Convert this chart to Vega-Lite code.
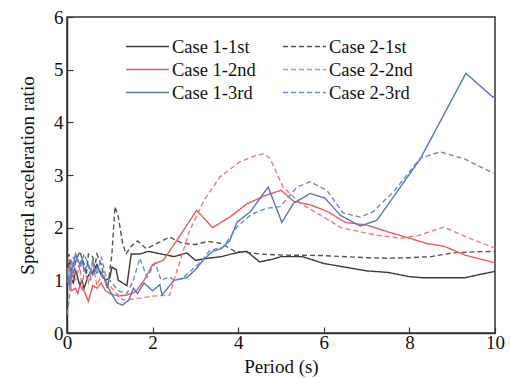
{
  "$schema": "https://vega.github.io/schema/vega-lite/v6.json",
  "width": 428,
  "height": 316,
  "autosize": "none",
  "padding": {"left": 67, "top": 17, "right": 15, "bottom": 45},
  "background": "white",
  "config": {
    "font": "Liberation Serif",
    "view": {"stroke": "#333", "strokeWidth": 1.5}
  },
  "datasets": {
    "d": [
      {"s":"Case 1-1st","t":0,"v":1.1},{"s":"Case 1-1st","t":0.05,"v":1.35},{"s":"Case 1-1st","t":0.1,"v":1.0},{"s":"Case 1-1st","t":0.15,"v":0.95},{"s":"Case 1-1st","t":0.2,"v":1.2},{"s":"Case 1-1st","t":0.3,"v":0.9},{"s":"Case 1-1st","t":0.35,"v":1.0},{"s":"Case 1-1st","t":0.4,"v":0.85},{"s":"Case 1-1st","t":0.5,"v":1.1},{"s":"Case 1-1st","t":0.6,"v":1.15},{"s":"Case 1-1st","t":0.7,"v":1.3},{"s":"Case 1-1st","t":0.8,"v":1.1},{"s":"Case 1-1st","t":0.9,"v":1.0},{"s":"Case 1-1st","t":1.0,"v":1.05},{"s":"Case 1-1st","t":1.05,"v":1.25},{"s":"Case 1-1st","t":1.15,"v":1.2},{"s":"Case 1-1st","t":1.2,"v":1.0},{"s":"Case 1-1st","t":1.3,"v":0.95},{"s":"Case 1-1st","t":1.4,"v":0.9},{"s":"Case 1-1st","t":1.5,"v":1.5},{"s":"Case 1-1st","t":1.7,"v":1.5},{"s":"Case 1-1st","t":1.9,"v":1.55},{"s":"Case 1-1st","t":2.2,"v":1.5},{"s":"Case 1-1st","t":2.5,"v":1.45},{"s":"Case 1-1st","t":2.8,"v":1.52},{"s":"Case 1-1st","t":3.0,"v":1.38},{"s":"Case 1-1st","t":3.3,"v":1.42},{"s":"Case 1-1st","t":3.6,"v":1.45},{"s":"Case 1-1st","t":4.0,"v":1.53},{"s":"Case 1-1st","t":4.2,"v":1.55},{"s":"Case 1-1st","t":4.5,"v":1.35},{"s":"Case 1-1st","t":4.8,"v":1.4},{"s":"Case 1-1st","t":5.0,"v":1.45},{"s":"Case 1-1st","t":5.5,"v":1.45},{"s":"Case 1-1st","t":6.0,"v":1.32},{"s":"Case 1-1st","t":6.5,"v":1.25},{"s":"Case 1-1st","t":7.0,"v":1.18},{"s":"Case 1-1st","t":7.5,"v":1.15},{"s":"Case 1-1st","t":8.0,"v":1.07},{"s":"Case 1-1st","t":8.3,"v":1.05},{"s":"Case 1-1st","t":9.0,"v":1.05},{"s":"Case 1-1st","t":9.3,"v":1.05},{"s":"Case 1-1st","t":9.7,"v":1.12},{"s":"Case 1-1st","t":10,"v":1.17},

      {"s":"Case 2-1st","t":0,"v":1.3},{"s":"Case 2-1st","t":0.05,"v":1.5},{"s":"Case 2-1st","t":0.1,"v":1.2},{"s":"Case 2-1st","t":0.15,"v":1.05},{"s":"Case 2-1st","t":0.2,"v":1.35},{"s":"Case 2-1st","t":0.3,"v":1.55},{"s":"Case 2-1st","t":0.4,"v":1.3},{"s":"Case 2-1st","t":0.45,"v":1.1},{"s":"Case 2-1st","t":0.5,"v":1.5},{"s":"Case 2-1st","t":0.6,"v":1.45},{"s":"Case 2-1st","t":0.65,"v":1.25},{"s":"Case 2-1st","t":0.7,"v":1.5},{"s":"Case 2-1st","t":0.8,"v":1.3},{"s":"Case 2-1st","t":0.9,"v":0.95},{"s":"Case 2-1st","t":0.95,"v":0.85},{"s":"Case 2-1st","t":1.05,"v":1.5},{"s":"Case 2-1st","t":1.12,"v":2.4},{"s":"Case 2-1st","t":1.2,"v":2.2},{"s":"Case 2-1st","t":1.3,"v":1.7},{"s":"Case 2-1st","t":1.38,"v":1.5},{"s":"Case 2-1st","t":1.5,"v":1.65},{"s":"Case 2-1st","t":1.65,"v":1.75},{"s":"Case 2-1st","t":1.85,"v":1.6},{"s":"Case 2-1st","t":2.1,"v":1.7},{"s":"Case 2-1st","t":2.4,"v":1.82},{"s":"Case 2-1st","t":2.7,"v":1.7},{"s":"Case 2-1st","t":3.0,"v":1.68},{"s":"Case 2-1st","t":3.3,"v":1.74},{"s":"Case 2-1st","t":3.6,"v":1.7},{"s":"Case 2-1st","t":3.9,"v":1.56},{"s":"Case 2-1st","t":4.5,"v":1.5},{"s":"Case 2-1st","t":5.0,"v":1.48},{"s":"Case 2-1st","t":6.0,"v":1.47},{"s":"Case 2-1st","t":7.0,"v":1.43},{"s":"Case 2-1st","t":7.5,"v":1.42},{"s":"Case 2-1st","t":8.0,"v":1.43},{"s":"Case 2-1st","t":8.5,"v":1.45},{"s":"Case 2-1st","t":9.0,"v":1.52},{"s":"Case 2-1st","t":9.5,"v":1.54},{"s":"Case 2-1st","t":10,"v":1.55},

      {"s":"Case 1-2nd","t":0,"v":0.95},{"s":"Case 1-2nd","t":0.05,"v":1.1},{"s":"Case 1-2nd","t":0.1,"v":0.8},{"s":"Case 1-2nd","t":0.2,"v":0.85},{"s":"Case 1-2nd","t":0.25,"v":0.75},{"s":"Case 1-2nd","t":0.3,"v":0.9},{"s":"Case 1-2nd","t":0.4,"v":0.8},{"s":"Case 1-2nd","t":0.5,"v":0.6},{"s":"Case 1-2nd","t":0.6,"v":0.9},{"s":"Case 1-2nd","t":0.7,"v":0.85},{"s":"Case 1-2nd","t":0.8,"v":0.95},{"s":"Case 1-2nd","t":0.9,"v":0.8},{"s":"Case 1-2nd","t":1.0,"v":0.75},{"s":"Case 1-2nd","t":1.2,"v":0.7},{"s":"Case 1-2nd","t":1.4,"v":0.72},{"s":"Case 1-2nd","t":1.6,"v":0.78},{"s":"Case 1-2nd","t":1.8,"v":1.0},{"s":"Case 1-2nd","t":2.0,"v":1.3},{"s":"Case 1-2nd","t":2.25,"v":1.38},{"s":"Case 1-2nd","t":2.6,"v":1.8},{"s":"Case 1-2nd","t":3.03,"v":2.33},{"s":"Case 1-2nd","t":3.4,"v":2.0},{"s":"Case 1-2nd","t":3.8,"v":2.2},{"s":"Case 1-2nd","t":4.2,"v":2.45},{"s":"Case 1-2nd","t":4.6,"v":2.6},{"s":"Case 1-2nd","t":5.0,"v":2.71},{"s":"Case 1-2nd","t":5.3,"v":2.5},{"s":"Case 1-2nd","t":5.7,"v":2.43},{"s":"Case 1-2nd","t":6.1,"v":2.3},{"s":"Case 1-2nd","t":6.5,"v":2.1},{"s":"Case 1-2nd","t":7.0,"v":2.05},{"s":"Case 1-2nd","t":7.5,"v":1.92},{"s":"Case 1-2nd","t":8.0,"v":1.8},{"s":"Case 1-2nd","t":8.4,"v":1.7},{"s":"Case 1-2nd","t":8.8,"v":1.65},{"s":"Case 1-2nd","t":9.3,"v":1.48},{"s":"Case 1-2nd","t":10,"v":1.33},

      {"s":"Case 2-2nd","t":0,"v":1.15},{"s":"Case 2-2nd","t":0.05,"v":1.3},{"s":"Case 2-2nd","t":0.1,"v":0.9},{"s":"Case 2-2nd","t":0.15,"v":1.45},{"s":"Case 2-2nd","t":0.2,"v":1.0},{"s":"Case 2-2nd","t":0.3,"v":1.3},{"s":"Case 2-2nd","t":0.35,"v":0.8},{"s":"Case 2-2nd","t":0.4,"v":1.2},{"s":"Case 2-2nd","t":0.5,"v":0.95},{"s":"Case 2-2nd","t":0.6,"v":1.35},{"s":"Case 2-2nd","t":0.7,"v":0.9},{"s":"Case 2-2nd","t":0.8,"v":1.1},{"s":"Case 2-2nd","t":0.9,"v":0.95},{"s":"Case 2-2nd","t":1.0,"v":0.9},{"s":"Case 2-2nd","t":1.1,"v":0.8},{"s":"Case 2-2nd","t":1.3,"v":0.63},{"s":"Case 2-2nd","t":1.6,"v":0.65},{"s":"Case 2-2nd","t":2.0,"v":0.7},{"s":"Case 2-2nd","t":2.4,"v":0.72},{"s":"Case 2-2nd","t":2.52,"v":1.06},{"s":"Case 2-2nd","t":2.87,"v":1.95},{"s":"Case 2-2nd","t":3.2,"v":2.52},{"s":"Case 2-2nd","t":3.57,"v":2.96},{"s":"Case 2-2nd","t":4.04,"v":3.25},{"s":"Case 2-2nd","t":4.44,"v":3.38},{"s":"Case 2-2nd","t":4.6,"v":3.4},{"s":"Case 2-2nd","t":4.74,"v":3.32},{"s":"Case 2-2nd","t":5.05,"v":2.77},{"s":"Case 2-2nd","t":5.44,"v":2.47},{"s":"Case 2-2nd","t":6.0,"v":2.2},{"s":"Case 2-2nd","t":6.4,"v":2.0},{"s":"Case 2-2nd","t":7.2,"v":1.86},{"s":"Case 2-2nd","t":7.8,"v":1.8},{"s":"Case 2-2nd","t":8.2,"v":1.85},{"s":"Case 2-2nd","t":8.8,"v":2.01},{"s":"Case 2-2nd","t":9.4,"v":1.8},{"s":"Case 2-2nd","t":10,"v":1.61},

      {"s":"Case 1-3rd","t":0,"v":1.2},{"s":"Case 1-3rd","t":0.05,"v":0.9},{"s":"Case 1-3rd","t":0.1,"v":1.1},{"s":"Case 1-3rd","t":0.2,"v":1.5},{"s":"Case 1-3rd","t":0.3,"v":1.3},{"s":"Case 1-3rd","t":0.35,"v":1.4},{"s":"Case 1-3rd","t":0.4,"v":1.2},{"s":"Case 1-3rd","t":0.5,"v":1.3},{"s":"Case 1-3rd","t":0.6,"v":1.1},{"s":"Case 1-3rd","t":0.7,"v":1.25},{"s":"Case 1-3rd","t":0.8,"v":1.15},{"s":"Case 1-3rd","t":0.9,"v":1.0},{"s":"Case 1-3rd","t":1.0,"v":0.8},{"s":"Case 1-3rd","t":1.17,"v":0.57},{"s":"Case 1-3rd","t":1.3,"v":0.53},{"s":"Case 1-3rd","t":1.45,"v":0.63},{"s":"Case 1-3rd","t":1.55,"v":0.85},{"s":"Case 1-3rd","t":1.65,"v":0.75},{"s":"Case 1-3rd","t":1.8,"v":0.95},{"s":"Case 1-3rd","t":2.0,"v":0.8},{"s":"Case 1-3rd","t":2.17,"v":0.92},{"s":"Case 1-3rd","t":2.22,"v":0.72},{"s":"Case 1-3rd","t":2.5,"v":1.0},{"s":"Case 1-3rd","t":2.8,"v":1.05},{"s":"Case 1-3rd","t":3.0,"v":1.2},{"s":"Case 1-3rd","t":3.2,"v":1.4},{"s":"Case 1-3rd","t":3.4,"v":1.55},{"s":"Case 1-3rd","t":3.6,"v":1.6},{"s":"Case 1-3rd","t":3.8,"v":1.75},{"s":"Case 1-3rd","t":3.97,"v":2.1},{"s":"Case 1-3rd","t":4.28,"v":2.3},{"s":"Case 1-3rd","t":4.7,"v":2.77},{"s":"Case 1-3rd","t":5.02,"v":2.1},{"s":"Case 1-3rd","t":5.29,"v":2.46},{"s":"Case 1-3rd","t":5.68,"v":2.65},{"s":"Case 1-3rd","t":6.03,"v":2.56},{"s":"Case 1-3rd","t":6.38,"v":2.24},{"s":"Case 1-3rd","t":6.85,"v":2.03},{"s":"Case 1-3rd","t":7.24,"v":2.14},{"s":"Case 1-3rd","t":8.25,"v":3.3},{"s":"Case 1-3rd","t":9.32,"v":4.93},{"s":"Case 1-3rd","t":9.95,"v":4.48},{"s":"Case 1-3rd","t":10,"v":4.5},

      {"s":"Case 2-3rd","t":0,"v":0.35},{"s":"Case 2-3rd","t":0.05,"v":0.6},{"s":"Case 2-3rd","t":0.1,"v":1.4},{"s":"Case 2-3rd","t":0.15,"v":1.1},{"s":"Case 2-3rd","t":0.2,"v":1.5},{"s":"Case 2-3rd","t":0.3,"v":1.2},{"s":"Case 2-3rd","t":0.4,"v":1.5},{"s":"Case 2-3rd","t":0.5,"v":1.3},{"s":"Case 2-3rd","t":0.55,"v":1.0},{"s":"Case 2-3rd","t":0.6,"v":1.4},{"s":"Case 2-3rd","t":0.7,"v":1.1},{"s":"Case 2-3rd","t":0.8,"v":1.45},{"s":"Case 2-3rd","t":0.9,"v":1.1},{"s":"Case 2-3rd","t":1.0,"v":1.0},{"s":"Case 2-3rd","t":1.2,"v":0.8},{"s":"Case 2-3rd","t":1.4,"v":0.75},{"s":"Case 2-3rd","t":1.55,"v":1.0},{"s":"Case 2-3rd","t":1.7,"v":1.42},{"s":"Case 2-3rd","t":1.87,"v":1.06},{"s":"Case 2-3rd","t":2.06,"v":1.33},{"s":"Case 2-3rd","t":2.2,"v":1.0},{"s":"Case 2-3rd","t":2.4,"v":1.07},{"s":"Case 2-3rd","t":2.5,"v":1.0},{"s":"Case 2-3rd","t":2.7,"v":1.04},{"s":"Case 2-3rd","t":3.1,"v":1.33},{"s":"Case 2-3rd","t":3.34,"v":1.57},{"s":"Case 2-3rd","t":3.65,"v":1.63},{"s":"Case 2-3rd","t":3.97,"v":2.01},{"s":"Case 2-3rd","t":4.3,"v":2.25},{"s":"Case 2-3rd","t":4.67,"v":2.37},{"s":"Case 2-3rd","t":4.98,"v":2.4},{"s":"Case 2-3rd","t":5.37,"v":2.77},{"s":"Case 2-3rd","t":5.68,"v":2.87},{"s":"Case 2-3rd","t":6.07,"v":2.71},{"s":"Case 2-3rd","t":6.45,"v":2.28},{"s":"Case 2-3rd","t":6.85,"v":2.2},{"s":"Case 2-3rd","t":7.15,"v":2.3},{"s":"Case 2-3rd","t":7.66,"v":2.71},{"s":"Case 2-3rd","t":8.25,"v":3.32},{"s":"Case 2-3rd","t":8.72,"v":3.44},{"s":"Case 2-3rd","t":9.3,"v":3.3},{"s":"Case 2-3rd","t":9.95,"v":3.04},{"s":"Case 2-3rd","t":10,"v":3.03}
    ]
  },
  "data": {"name": "d"},
  "mark": {"type": "line", "strokeWidth": 1.4, "clip": true},
  "encoding": {
    "x": {"field": "t", "type": "quantitative", "title": "Period (s)",
      "scale": {"domain": [0, 10], "nice": false},
      "axis": {"values": [0, 2, 4, 6, 8, 10], "grid": false,
        "labelFont": "Liberation Serif", "labelFontSize": 19, "labelColor": "#111", "labelFontWeight": "normal",
        "titleFont": "Liberation Serif", "titleFontSize": 19, "titleColor": "#111", "titleFontWeight": "normal",
        "domainColor": "#333", "domainWidth": 1.5, "tickColor": "#333", "tickWidth": 1.2, "tickSize": -6,
        "labelPadding": 6, "titlePadding": 5, "labelFlush": false}},
    "y": {"field": "v", "type": "quantitative", "title": "Spectral acceleration ratio",
      "scale": {"domain": [0, 6], "nice": false},
      "axis": {"values": [0, 1, 2, 3, 4, 5, 6], "grid": false,
        "labelFont": "Liberation Serif", "labelFontSize": 19, "labelColor": "#111", "labelFontWeight": "normal",
        "titleFont": "Liberation Serif", "titleFontSize": 19, "titleColor": "#111", "titleFontWeight": "normal",
        "domainColor": "#333", "domainWidth": 1.5, "tickColor": "#333", "tickWidth": 1.2, "tickSize": -6,
        "labelPadding": 10, "titlePadding": 16, "labelFlush": false}},
    "color": {"field": "s", "type": "nominal",
      "scale": {"domain": ["Case 1-1st", "Case 1-2nd", "Case 1-3rd", "Case 2-1st", "Case 2-2nd", "Case 2-3rd"],
        "range": ["#3a3a3a", "#ef5858", "#5577bb", "#555555", "#f07a7a", "#6a8acb"]},
      "legend": {"orient": "none", "legendX": 58, "legendY": 20, "columns": 2, "title": null,
        "symbolType": "stroke", "symbolSize": 1850, "symbolStrokeWidth": 1.5,
        "labelFont": "Liberation Serif", "labelFontSize": 18.5, "labelColor": "#111",
        "labelOffset": 2, "clipHeight": 19, "rowPadding": 4, "columnPadding": 26, "padding": 0}},
    "strokeDash": {"field": "s", "type": "nominal",
      "scale": {"domain": ["Case 1-1st", "Case 1-2nd", "Case 1-3rd", "Case 2-1st", "Case 2-2nd", "Case 2-3rd"],
        "range": [[1, 0], [1, 0], [1, 0], [5, 3], [5, 3], [5, 3]]},
      "legend": {"orient": "none", "legendX": 58, "legendY": 20, "columns": 2, "title": null,
        "symbolType": "stroke", "symbolSize": 1850, "symbolStrokeWidth": 1.5,
        "labelFont": "Liberation Serif", "labelFontSize": 18.5, "labelColor": "#111",
        "labelOffset": 2, "clipHeight": 19, "rowPadding": 4, "columnPadding": 26, "padding": 0}}
  }
}
